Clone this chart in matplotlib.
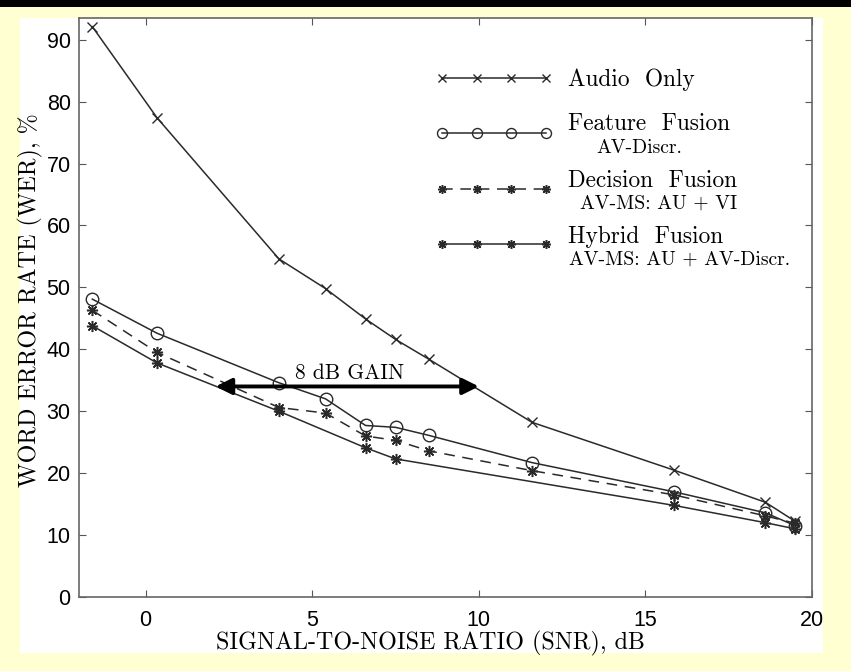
import matplotlib
matplotlib.use("Agg")
import matplotlib.pyplot as plt
from matplotlib.patches import Rectangle
from matplotlib.legend_handler import HandlerLine2D

# SNR values (dB) shared by most systems
snr = [-1.6, 0.34, 4.0, 5.4, 6.6, 7.5, 8.5, 11.6, 15.85, 18.6, 19.5]
wer_audio = [92.1, 77.4, 54.6, 49.8, 44.9, 41.6, 38.4, 28.2, 20.5, 15.3, 12.2]
wer_feature = [48.1, 42.6, 34.6, 32.0, 27.7, 27.4, 26.1, 21.7, 17.0, 13.6, 11.5]
wer_decision = [46.3, 39.5, 30.6, 29.7, 26.0, 25.3, 23.6, 20.4, 16.5, 13.1, 11.9]
# hybrid fusion has fewer points
snr_hybrid = [-1.6, 0.34, 4.0, 6.6, 7.5, 15.85, 18.6, 19.5]
wer_hybrid = [43.8, 37.8, 30.0, 24.1, 22.3, 14.8, 12.0, 11.0]

labels = ["Audio  Only", "Feature  Fusion", "Decision  Fusion", "Hybrid  Fusion"]
sublabels = ["AV-Discr.", "AV-MS: AU + VI", "AV-MS: AU + AV-Discr."]
gain_from, gain_to, gain_level = 2.1, 10.0, 34.0

serif = "cmr10"
sans = "Liberation Sans"
ink = "#2a2a2a"

fig = plt.figure(figsize=(8.51, 6.71), dpi=100, facecolor="#FFFFD2")
fig.patches.append(Rectangle((0, 1 - 7/671), 1, 7/671, transform=fig.transFigure,
                             facecolor="black", edgecolor="none", zorder=-10))
fig.patches.append(Rectangle((20/851, 1 - 653/671), 803/851, 635/671,
                             transform=fig.transFigure, facecolor="white",
                             edgecolor="none", zorder=-10))

ax = fig.add_axes([79/851, 1 - 597/671, 733/851, 579/671])
ax.set_facecolor("white")

star = (8, 2, 0)
l1, = ax.plot(snr, wer_audio, color=ink, lw=1.1, marker="x", ms=7, mew=1.0)
l2, = ax.plot(snr, wer_feature, color=ink, lw=1.1, marker="o", ms=9,
              mfc="none", mew=1.0)
l3, = ax.plot(snr, wer_decision, color=ink, lw=1.1, ls=(0, (7, 5)), marker=star,
              ms=8, mew=1.1)
l4, = ax.plot(snr_hybrid, wer_hybrid, color=ink, lw=1.1, marker=star, ms=8, mew=1.1)

ax.annotate("", xy=(gain_from, gain_level), xytext=(gain_to, gain_level),
            arrowprops=dict(arrowstyle="<|-|>", color="black", lw=2.8,
                            mutation_scale=24, shrinkA=0, shrinkB=0))
ax.text((gain_from + gain_to) / 2 + 0.07, gain_level + 0.6, "8 dB GAIN",
        family=serif, fontsize=15.5, ha="center", va="bottom")

ax.set_xlim(-2, 20)
ax.set_ylim(0, 93.5)
ax.set_xticks([0, 5, 10, 15, 20])
ax.set_yticks(range(0, 100, 10))
ax.tick_params(direction="in", length=5, width=0.8, top=True, right=True,
               labelsize=15.5, color="#555555")
ax.tick_params(axis="x", pad=9)
ax.tick_params(axis="y", pad=6)
for lab in ax.get_xticklabels() + ax.get_yticklabels():
    lab.set_family(sans)
for sp in ax.spines.values():
    sp.set_color("#666666")
    sp.set_linewidth(1.2)

ax.set_xlabel("SIGNAL-TO-NOISE RATIO (SNR), dB", family=serif, fontsize=17.3, va="center")
ax.set_ylabel("WORD ERROR RATE (WER), %", family=serif, fontsize=17.3, va="center")
ax.xaxis.set_label_coords(0.480, -0.081)
ax.yaxis.set_label_coords(-0.0668, 0.513)

leg = ax.legend([l1, l2, l3, l4], labels, loc="upper left",
                bbox_to_anchor=(0.495, 0.913), frameon=False, numpoints=4,
                handlelength=4.46, handletextpad=0.95, labelspacing=1.43,
                borderpad=0, borderaxespad=0, markerscale=0.8,
                prop={"family": serif, "size": 16.8},
                handler_map={l: HandlerLine2D(marker_pad=0) for l in (l1, l2, l3, l4)})
# the fused entries have their main label raised above the sample line
for t, dy in zip(leg.get_texts(), [0, 11, 10, 9]):
    t.set_y(dy)

sub_pos = [(0.765, 0.776), (0.791, 0.680), (0.819, 0.582)]
for (sx, sy), s in zip(sub_pos, sublabels):
    ax.text(sx, sy, s, transform=ax.transAxes, family=serif, fontsize=14.2,
            ha="center", va="center")

fig.savefig("out.png", dpi=100, facecolor=fig.get_facecolor())
